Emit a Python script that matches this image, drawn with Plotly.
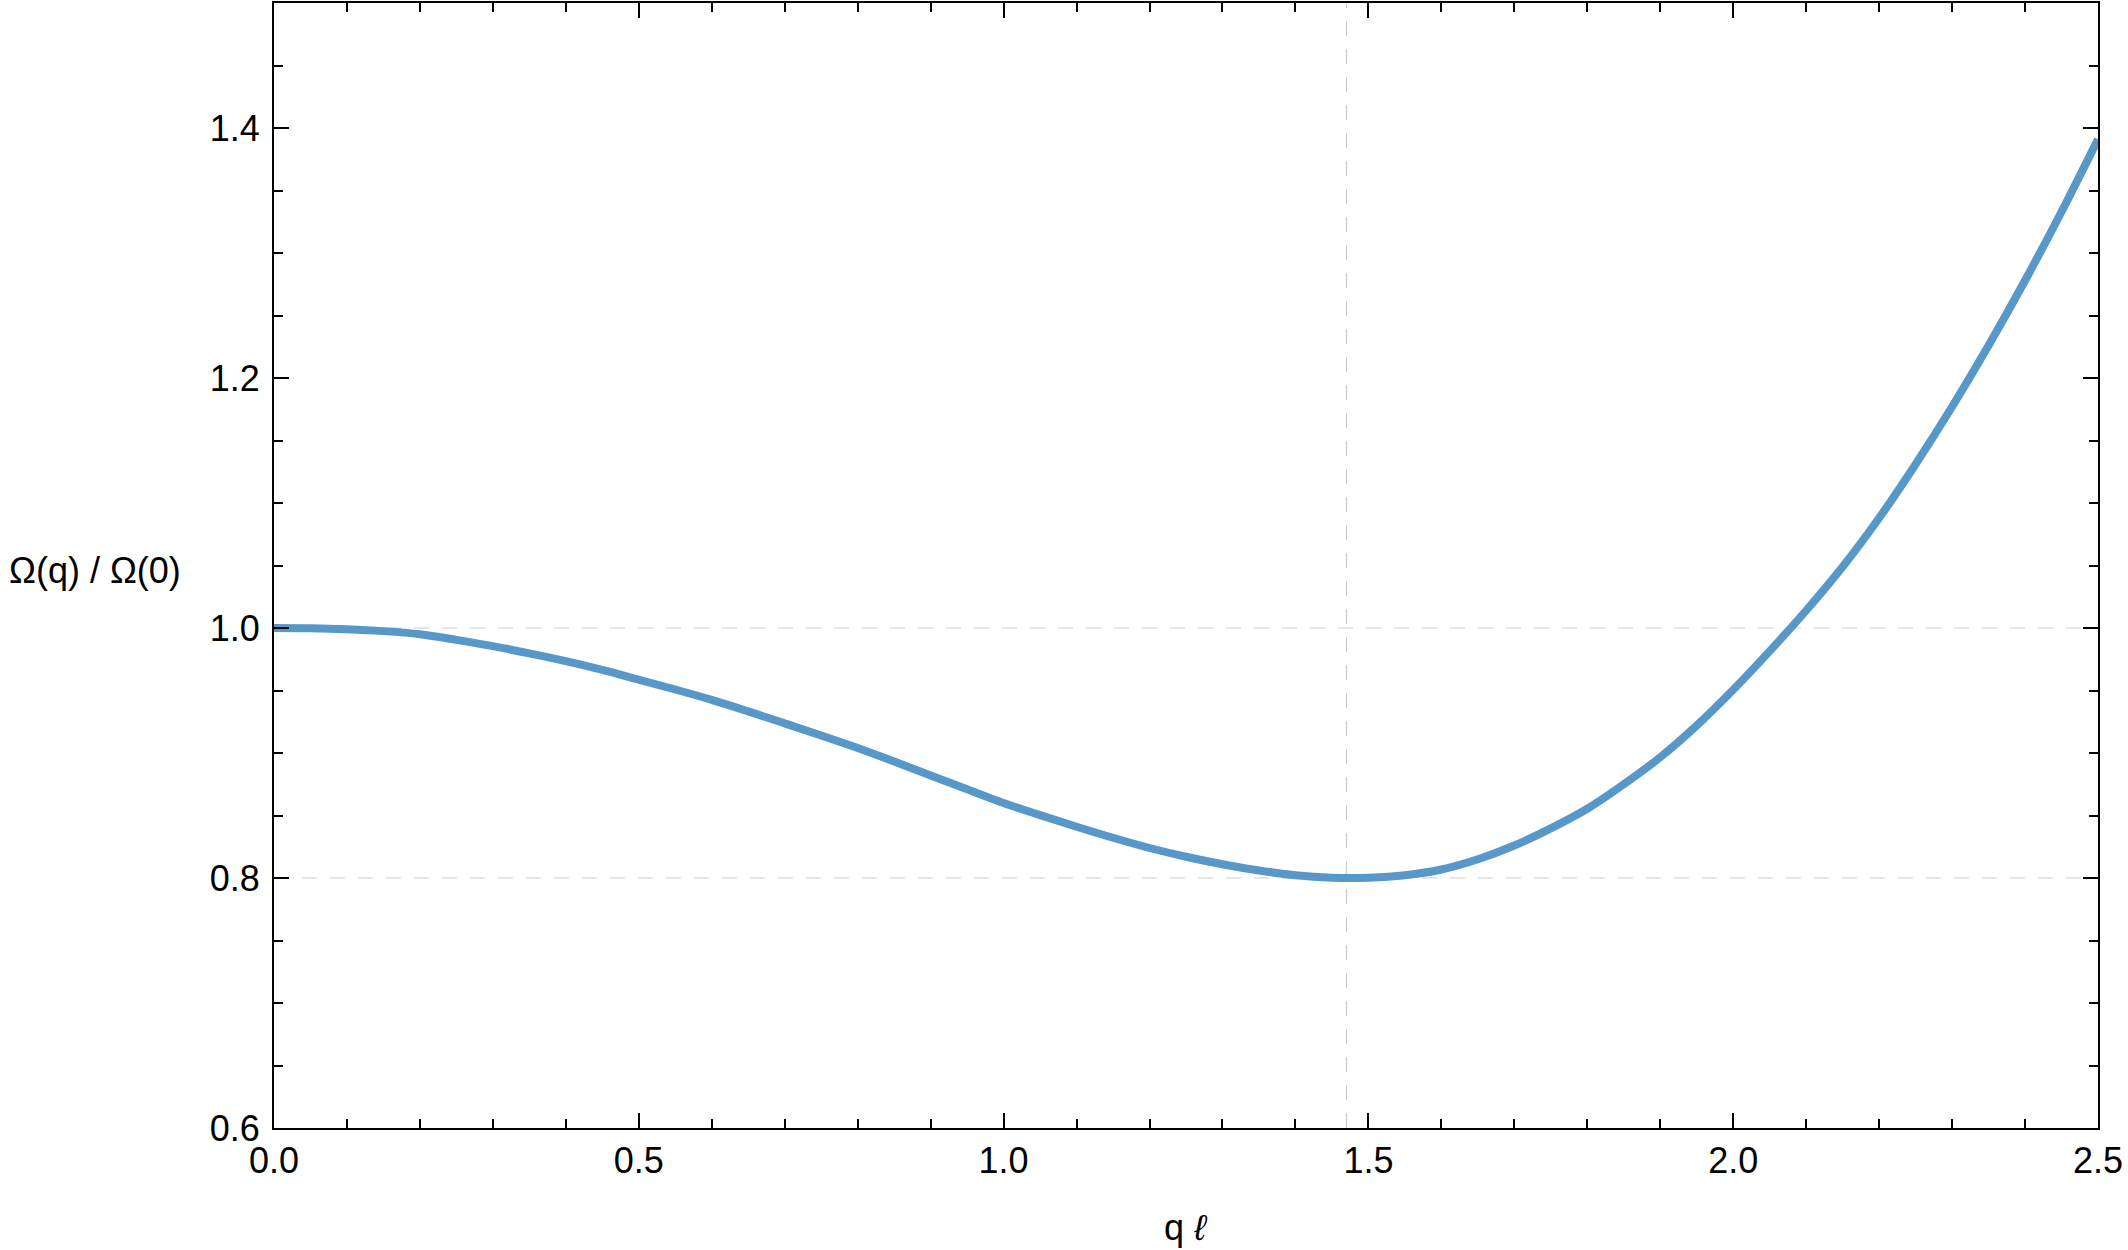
import plotly.graph_objects as go

# Curve values (q step 0.05)
q_vals = [0.00, 0.05, 0.10, 0.15, 0.20, 0.25, 0.30, 0.35, 0.40, 0.45, 0.50, 0.55, 0.60,
          0.65, 0.70, 0.75, 0.80, 0.85, 0.90, 0.95, 1.00, 1.05, 1.10, 1.15, 1.20, 1.25,
          1.30, 1.35, 1.40, 1.45, 1.50, 1.55, 1.60, 1.65, 1.70, 1.75, 1.80, 1.85, 1.90,
          1.95, 2.00, 2.05, 2.10, 2.15, 2.20, 2.25, 2.30, 2.35, 2.40, 2.45, 2.50]
omega_ratio = [1.0000, 0.9998, 0.9990, 0.9975, 0.9950, 0.9905, 0.9855, 0.9797, 0.9735,
               0.9665, 0.9587, 0.9508, 0.9425, 0.9333, 0.9237, 0.9140, 0.9040, 0.8932,
               0.8820, 0.8710, 0.8600, 0.8503, 0.8410, 0.8322, 0.8240, 0.8170, 0.8110,
               0.8060, 0.8022, 0.8003, 0.8003, 0.8022, 0.8068, 0.8150, 0.8260, 0.8397,
               0.8554, 0.8750, 0.8966, 0.9220, 0.9506, 0.9815, 1.0140, 1.0490, 1.0880,
               1.1310, 1.1770, 1.2260, 1.2780, 1.3330, 1.3910]

# Dashed reference lines
ref_y = [0.8, 1.0]
ref_x = [1.47]

x_ticks = [0.0, 0.5, 1.0, 1.5, 2.0, 2.5]
x_ticklabels = ["0.0", "0.5", "1.0", "1.5", "2.0", "2.5"]
y_ticks = [0.6, 0.8, 1.0, 1.2, 1.4]
y_ticklabels = ["0.6", "0.8", "1.0", "1.2", "1.4"]

FONT = "Liberation Sans, Arial, sans-serif"
W, H = 2128, 1250
ML, MR, MT, MB = 274, 30, 1, 122

fig = go.Figure()
fig.add_trace(go.Scatter(
    x=q_vals, y=omega_ratio, mode="lines",
    line=dict(color="rgb(88,152,200)", width=8, shape="spline", smoothing=1.0),
    showlegend=False, hoverinfo="skip",
))

for yv in ref_y:
    fig.add_shape(type="line", xref="paper", yref="y", x0=0, x1=1, y0=yv, y1=yv,
                  line=dict(color="#cccccc", width=1.2, dash="15px,13px"), layer="below")
for xv in ref_x:
    fig.add_shape(type="line", xref="x", yref="paper", x0=xv, x1=xv, y0=0, y1=1,
                  line=dict(color="#cccccc", width=1.2, dash="15px,13px"), layer="below")

axis_common = dict(
    showgrid=False, zeroline=False, showline=True, linecolor="black", linewidth=2,
    mirror="ticks", ticks="inside", ticklen=15, tickwidth=2, tickcolor="black",
    tickfont=dict(family=FONT, size=36, color="black"),
)

fig.update_xaxes(range=[0, 2.5], tickvals=x_ticks, ticktext=x_ticklabels,
                 minor=dict(dtick=0.1, ticks="inside", ticklen=9, tickwidth=2, tickcolor="black"),
                 **axis_common)
fig.update_yaxes(range=[0.6, 1.5], tickvals=y_ticks, ticktext=y_ticklabels,
                 ticklabelstandoff=5,
                 minor=dict(dtick=0.05, ticks="inside", ticklen=9, tickwidth=2, tickcolor="black"),
                 **axis_common)

plot_h = H - MT - MB
fig.add_annotation(text="Ω(q) / Ω(0)", xref="paper", yref="paper",
                   x=-(ML - 7) / (W - ML - MR), xanchor="left",
                   y=1 - (570 - MT) / plot_h, yanchor="middle", showarrow=False,
                   font=dict(family=FONT, size=36, color="black"))
fig.add_annotation(text="q <i>ℓ</i>", xref="paper", yref="paper",
                   x=0.5, xanchor="center",
                   y=-(1228 - (H - MB)) / plot_h, yanchor="middle", showarrow=False,
                   font=dict(family=FONT, size=36, color="black"))

fig.update_layout(
    width=W, height=H, margin=dict(l=ML, r=MR, t=MT, b=MB),
    plot_bgcolor="white", paper_bgcolor="white",
)

fig.write_html("out.html", config={"displayModeBar": False},
               post_script="document.body.style.margin='0';document.body.style.overflow='hidden';")
